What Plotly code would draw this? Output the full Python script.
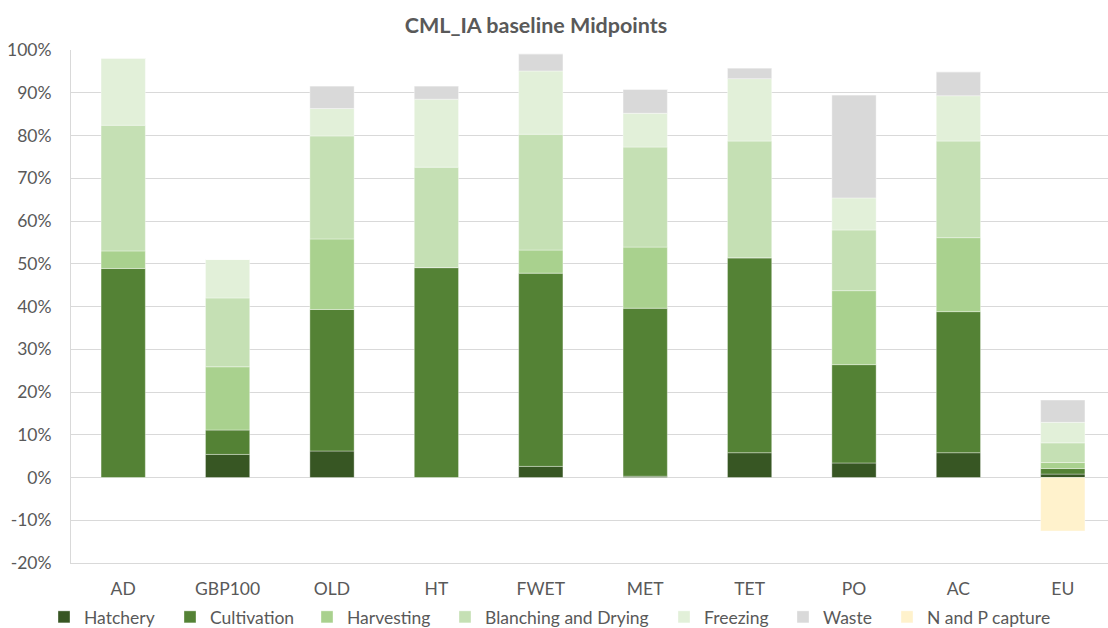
import plotly.graph_objects as go

# Scenario categories
scenarios = ["AD", "GBP100", "OLD", "HT", "FWET", "MET", "TET", "PO", "AC", "EU"]

# Share of impact per life-cycle stage (fraction of reference total)
hatchery    = [0.000, 0.054, 0.062, 0.000, 0.026, 0.003, 0.058, 0.034, 0.058, 0.008]
cultivation = [0.489, 0.057, 0.331, 0.491, 0.452, 0.393, 0.456, 0.230, 0.330, 0.013]
harvesting  = [0.041, 0.148, 0.165, 0.000, 0.054, 0.143, 0.000, 0.173, 0.173, 0.014]
blanching   = [0.294, 0.161, 0.241, 0.235, 0.271, 0.234, 0.273, 0.142, 0.226, 0.046]
freezing    = [0.157, 0.090, 0.064, 0.159, 0.148, 0.079, 0.146, 0.075, 0.106, 0.048]
waste       = [0.000, 0.000, 0.053, 0.031, 0.040, 0.056, 0.025, 0.241, 0.056, 0.052]
np_capture  = [0.000, 0.000, 0.000, 0.000, 0.000, 0.000, 0.000, 0.000, 0.000, -0.125]

y_ticks = [-0.2, -0.1, 0.0, 0.1, 0.2, 0.3, 0.4, 0.5, 0.6, 0.7, 0.8, 0.9, 1.0]
y_tick_labels = ["-20%", "-10%", "0%", "10%", "20%", "30%", "40%",
                 "50%", "60%", "70%", "80%", "90%", "100%"]

series = [
    ("Hatchery", hatchery, "#375623"),
    ("Cultivation", cultivation, "#548235"),
    ("Harvesting", harvesting, "#A9D18E"),
    ("Blanching and Drying", blanching, "#C5E0B4"),
    ("Freezing", freezing, "#E2F0D9"),
    ("Waste", waste, "#D9D9D9"),
    ("N and P capture", np_capture, "#FFF2CC"),
]

# Left edge (px) of each legend swatch along the bottom row
legend_swatch_x = [54, 180, 317, 455, 674, 793, 897]

FONT = "Lato, 'Open Sans', sans-serif"
TEXT = "#595959"
GRID = "#D9D9D9"
FS = 17.5

W, H = 1108, 628
left, top, bottom = 71, 50, 65
plot_w = W - left
step = 104.4  # pixel width of one category slot
x_right = -0.5 + plot_w / step

fig = go.Figure()
legends = {}
for i, (name, vals, color) in enumerate(series):
    key = "legend" if i == 0 else f"legend{i + 1}"
    fig.add_trace(go.Bar(
        name=name,
        x=scenarios,
        y=vals,
        legend=key,
        showlegend=True,
        marker=dict(color=color, line=dict(width=0.6, color="rgba(255,255,255,0.6)")),
        hovertemplate="%{x}<br>" + name + ": %{y:.1%}<extra></extra>",
    ))
    legends[key] = dict(
        orientation="h",
        x=(legend_swatch_x[i] - 10) / W, xref="container", xanchor="left",
        y=1 - 617 / H, yref="container", yanchor="middle",
        font=dict(family=FONT, size=FS, color=TEXT),
        itemwidth=30,
        bgcolor="rgba(0,0,0,0)",
    )

fig.update_layout(
    width=W, height=H,
    showlegend=True,
    barmode="relative",
    bargap=0.576,
    paper_bgcolor="white",
    plot_bgcolor="white",
    margin=dict(l=left, r=0, t=top, b=bottom, pad=0),
    font=dict(family=FONT, size=FS, color=TEXT),
    title=dict(
        text="<b>CML_IA baseline Midpoints</b>",
        x=536 / W, xref="container", xanchor="center",
        y=1 - 25 / H, yref="container", yanchor="middle",
        font=dict(family=FONT, size=21.5, color=TEXT),
    ),
    xaxis=dict(
        range=[-0.5, x_right],
        showgrid=False,
        showline=True,
        linecolor=GRID,
        linewidth=1,
        ticks="",
        ticklabelstandoff=10,
        tickfont=dict(family=FONT, size=FS, color=TEXT),
        automargin=False,
        fixedrange=True,
    ),
    yaxis=dict(
        range=[-0.2, 1.0],
        tickvals=y_ticks,
        ticktext=y_tick_labels,
        showgrid=True,
        gridcolor=GRID,
        gridwidth=1,
        zeroline=True,
        zerolinecolor=GRID,
        zerolinewidth=1,
        showline=True,
        linecolor=GRID,
        linewidth=1,
        ticks="",
        ticklabelstandoff=15,
        tickfont=dict(family=FONT, size=FS, color=TEXT),
        automargin=False,
        fixedrange=True,
    ),
    **legends,
)

fig.write_html("out.html")
